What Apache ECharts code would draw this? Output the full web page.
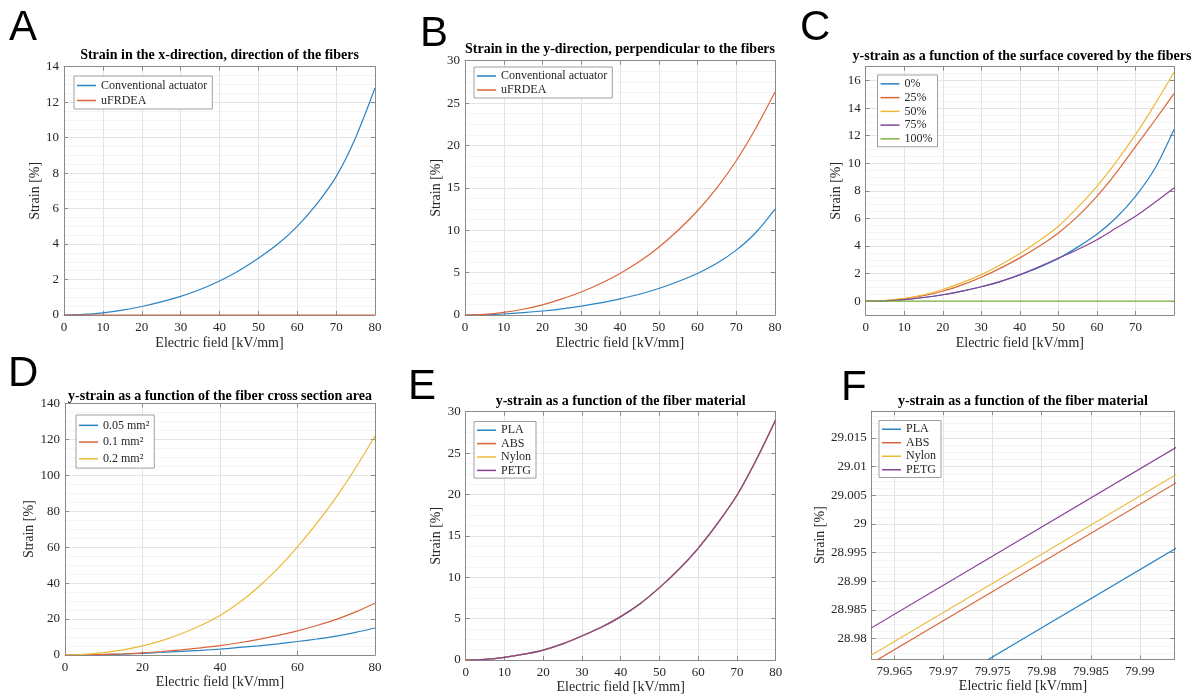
<!DOCTYPE html>
<html>
<head>
<meta charset="utf-8">
<title>Strain vs electric field</title>
<script src="https://cdn.jsdelivr.net/npm/echarts@6/dist/echarts.min.js"></script>
<style>
  html, body { margin: 0; padding: 0; background: #fff; }
  #chart { width: 1201px; height: 697px; }
</style>
</head>
<body>
<div id="chart"></div>
<script>
  // electric field samples [kV/mm], shared by panels A-E
  var field = [0, 5, 10, 15, 20, 25, 30, 35, 40, 45, 50, 55, 60, 65, 70, 75, 80];

  // A: strain in x-direction
  var aConventional = [0, 0.03, 0.12, 0.27, 0.48, 0.74, 1.05, 1.44, 1.92, 2.5, 3.2, 4.0, 5.0, 6.25, 7.8, 10.0, 12.8];
  var aUFRDEA = [0, 0, 0, 0, 0, 0, 0, 0, 0, 0, 0, 0, 0, 0, 0, 0, 0];

  // B: strain in y-direction
  var bConventional = [0, 0.03, 0.12, 0.27, 0.47, 0.73, 1.05, 1.42, 1.9, 2.45, 3.12, 3.95, 4.9, 6.1, 7.65, 9.7, 12.5];
  var bUFRDEA = [0, 0.07, 0.3, 0.68, 1.2, 1.9, 2.72, 3.72, 4.9, 6.3, 8.0, 10.0, 12.3, 15.0, 18.2, 22.0, 26.3];

  // C: surface covered by the fibers
  var cCover0 = [0, 0.03, 0.12, 0.27, 0.47, 0.73, 1.05, 1.42, 1.9, 2.45, 3.1, 3.92, 4.85, 6.05, 7.6, 9.6, 12.45];
  var cCover25 = [0, 0.04, 0.17, 0.4, 0.72, 1.18, 1.74, 2.4, 3.14, 3.98, 4.95, 6.15, 7.6, 9.3, 11.2, 13.1, 15.05];
  var cCover50 = [0, 0.05, 0.2, 0.46, 0.85, 1.35, 1.93, 2.64, 3.45, 4.38, 5.43, 6.8, 8.33, 10.1, 12.07, 14.25, 16.6];
  var cCover75 = [0, 0.03, 0.12, 0.27, 0.47, 0.73, 1.05, 1.44, 1.93, 2.5, 3.12, 3.75, 4.46, 5.3, 6.15, 7.15, 8.2];
  var cCover100 = [0, 0, 0, 0, 0, 0, 0, 0, 0, 0, 0, 0, 0, 0, 0, 0, 0];

  // D: fiber cross section area
  var dArea005 = [0, 0.05, 0.22, 0.5, 0.9, 1.4, 2.0, 2.6, 3.3, 4.2, 5.1, 6.2, 7.5, 8.9, 10.5, 12.6, 15.0];
  var dArea01 = [0, 0.08, 0.32, 0.7, 1.2, 1.95, 2.9, 3.95, 5.2, 6.8, 8.7, 10.9, 13.4, 16.4, 19.8, 24.0, 28.8];
  var dArea02 = [0, 0.3, 1.3, 2.9, 5.1, 8.0, 11.8, 16.4, 22.0, 29.2, 38.0, 48.3, 60.2, 73.3, 87.8, 104.0, 121.8];

  // E: fiber material (curves overlap)
  var ePLA = [0, 0.08, 0.32, 0.7, 1.2, 1.95, 2.9, 3.95, 5.24, 6.8, 8.74, 10.95, 13.5, 16.5, 19.9, 24.2, 29.002];
  var eABS = [0, 0.08, 0.32, 0.7, 1.2, 1.95, 2.9, 3.95, 5.24, 6.8, 8.74, 10.95, 13.5, 16.5, 19.9, 24.2, 29.014];
  var eNylon = [0, 0.08, 0.32, 0.7, 1.2, 1.95, 2.9, 3.95, 5.24, 6.8, 8.74, 10.95, 13.5, 16.5, 19.9, 24.2, 29.015];
  var ePETG = [0, 0.08, 0.32, 0.7, 1.2, 1.95, 2.9, 3.95, 5.24, 6.8, 8.74, 10.95, 13.5, 16.5, 19.9, 24.2, 29.020];

  // F: zoom near 80 kV/mm
  var fField = [79.96, 79.995];
  var fPLA = [28.96159, 28.99711];
  var fABS = [28.97299, 29.00851];
  var fNylon = [28.97442, 29.00995];
  var fPETG = [28.97918, 29.01467];

  var serif = '"Liberation Serif", "Times New Roman", serif';
  var ink = '#262626';
  var boxColor = '#8a8a8a';
  var gridColor = '#e4e4e4';
  var minorColor = '#f5f5f5';
  var colors = ['#2b83c3', '#d9663a', '#ecb938', '#87449a', '#7fb243'];

  var grid = [], xAxis = [], yAxis = [], series = [], legend = [], graphic = [];

  function pairs(xs, ys) {
    return xs.map(function (x, i) { return [x, ys[i]]; });
  }

  function axes(kind, gi, range, hide, name, nameGap) {
    hide = hide || {};
    var main = Object.assign({ type: 'value', gridIndex: gi }, range, {
      position: kind === 'x' ? 'bottom' : 'left',
      name: name,
      nameLocation: 'middle',
      nameGap: nameGap,
      nameTextStyle: { fontFamily: serif, fontSize: 14, color: ink },
      axisLine: { onZero: false, lineStyle: { color: boxColor, width: 1 } },
      axisTick: { inside: true, length: 4, lineStyle: { color: boxColor } },
      axisLabel: {
        fontFamily: serif, fontSize: 13, color: ink,
        margin: kind === 'x' ? 6 : 5,
        showMinLabel: !hide.min, showMaxLabel: !hide.max
      },
      splitLine: { show: true, lineStyle: { color: gridColor, width: 1 } },
      minorTick: { show: false, splitNumber: 4 },
      minorSplitLine: { show: kind === 'y', lineStyle: { color: minorColor, width: 1 } }
    });
    var mirror = Object.assign({ type: 'value', gridIndex: gi }, range, {
      position: kind === 'x' ? 'top' : 'right',
      axisLine: { onZero: false, lineStyle: { color: boxColor, width: 1 } },
      axisTick: { inside: true, length: 4, lineStyle: { color: boxColor } },
      axisLabel: { show: false },
      splitLine: { show: false }
    });
    return [main, mirror];
  }

  function panel(p) {
    var gi = grid.length;
    grid.push({ left: p.box[0], top: p.box[1], width: p.box[2], height: p.box[3], outerBoundsMode: 'none' });
    var xa = axes('x', gi, p.x, p.xHide, 'Electric field [kV/mm]', p.xGap);
    var ya = axes('y', gi, p.y, p.yHide, 'Strain [%]', p.yGap);
    var xi = xAxis.length, yi = yAxis.length;
    xAxis.push(xa[0], xa[1]);
    yAxis.push(ya[0], ya[1]);
    p.lines.forEach(function (l) {
      series.push({
        type: 'line', name: l.name, xAxisIndex: xi, yAxisIndex: yi,
        data: pairs(p.xs, l.data), symbol: 'none', smooth: 0.3,
        clip: true, color: l.color,
        lineStyle: { width: 1.2, color: l.color }
      });
    });
    legend.push({
      orient: 'vertical', left: p.legend[0], top: p.legend[1],
      data: p.lines.map(function (l) { return l.name; }),
      backgroundColor: '#fff', borderColor: '#a0a0a0', borderWidth: 1,
      padding: [2, 5, 1, 3], itemGap: 0, itemWidth: 19, itemHeight: 1.5, icon: 'rect',
      selectedMode: false,
      textStyle: { fontFamily: serif, fontSize: 12, color: ink, lineHeight: p.legend[2] }
    });
    graphic.push({
      type: 'text', x: p.title[1], y: p.title[2], silent: true,
      style: { text: p.title[0], font: 'bold 14px ' + serif, fill: '#000', textAlign: 'center', textVerticalAlign: 'middle' }
    });
    graphic.push({
      type: 'text', x: p.letter[1], y: p.letter[2], silent: true,
      style: { text: p.letter[0], font: '42px "Liberation Sans", Arial, sans-serif', fill: '#000', textAlign: 'left', textVerticalAlign: 'middle' }
    });
  }

  panel({
    box: [64, 66.7, 311, 248.3], xs: field,
    x: { min: 0, max: 80, interval: 10 }, y: { min: 0, max: 14, interval: 2 },
    xGap: 21, yGap: 19,
    lines: [
      { name: 'Conventional actuator', data: aConventional, color: colors[0] },
      { name: 'uFRDEA', data: aUFRDEA, color: colors[1] }
    ],
    legend: [74, 76, 15],
    title: ['Strain in the x-direction, direction of the fibers', 219.5, 55.5],
    letter: ['A', 9, 28]
  });

  panel({
    box: [465, 60.7, 310, 254.3], xs: field,
    x: { min: 0, max: 80, interval: 10 }, y: { min: 0, max: 30, interval: 5 },
    xGap: 21, yGap: 18,
    lines: [
      { name: 'Conventional actuator', data: bConventional, color: colors[0] },
      { name: 'uFRDEA', data: bUFRDEA, color: colors[1] }
    ],
    legend: [474, 67, 14],
    title: ['Strain in the y-direction, perpendicular to the fibers', 620, 49],
    letter: ['B', 420, 34]
  });

  panel({
    box: [865.7, 66.7, 308.3, 248.3], xs: field,
    x: { min: 0, max: 80, interval: 10 }, y: { min: -1, max: 17, minInterval: 2, maxInterval: 2 },
    xHide: { max: true }, yHide: { min: true, max: true },
    xGap: 21, yGap: 18,
    lines: [
      { name: '0%', data: cCover0, color: colors[0] },
      { name: '25%', data: cCover25, color: colors[1] },
      { name: '50%', data: cCover50, color: colors[2] },
      { name: '75%', data: cCover75, color: colors[3] },
      { name: '100%', data: cCover100, color: colors[4] }
    ],
    legend: [877.5, 75, 13.75],
    title: ['y-strain as a function of the surface covered by the fibers', 1022, 56],
    letter: ['C', 800, 28]
  });

  panel({
    box: [65, 403.3, 310, 251.7], xs: field,
    x: { min: 0, max: 80, interval: 20 }, y: { min: 0, max: 140, interval: 20 },
    xGap: 20, yGap: 24,
    lines: [
      { name: '0.05 mm²', data: dArea005, color: colors[0] },
      { name: '0.1 mm²', data: dArea01, color: colors[1] },
      { name: '0.2 mm²', data: dArea02, color: colors[2] }
    ],
    legend: [76, 415, 16.7],
    title: ['y-strain as a function of the fiber cross section area', 220, 396.5],
    letter: ['D', 8, 374]
  });

  panel({
    box: [465.7, 411.7, 310, 248.3], xs: field,
    x: { min: 0, max: 80, interval: 10 }, y: { min: 0, max: 30, interval: 5 },
    xGap: 18, yGap: 17,
    lines: [
      { name: 'PLA', data: ePLA, color: colors[0] },
      { name: 'ABS', data: eABS, color: colors[1] },
      { name: 'Nylon', data: eNylon, color: colors[2] },
      { name: 'PETG', data: ePETG, color: colors[3] }
    ],
    legend: [474, 421.5, 13.4],
    title: ['y-strain as a function of the fiber material', 620.7, 401.5],
    letter: ['E', 408, 387]
  });

  panel({
    box: [871.7, 411, 302.6, 248.3], xs: fField,
    x: { min: 79.9627, max: 79.9935, minInterval: 0.005, maxInterval: 0.005 },
    y: { min: 28.9764, max: 29.0197, minInterval: 0.005, maxInterval: 0.005 },
    xHide: { min: true, max: true }, yHide: { min: true, max: true },
    xGap: 19, yGap: 40,
    lines: [
      { name: 'PLA', data: fPLA, color: colors[0] },
      { name: 'ABS', data: fABS, color: colors[1] },
      { name: 'Nylon', data: fNylon, color: colors[2] },
      { name: 'PETG', data: fPETG, color: colors[3] }
    ],
    legend: [879, 420.5, 13.5],
    title: ['y-strain as a function of the fiber material', 1023, 401.5],
    letter: ['F', 841, 388]
  });

  var chart = echarts.init(document.getElementById('chart'), null, { renderer: 'canvas' });
  chart.setOption({
    backgroundColor: '#fff',
    animation: false,
    grid: grid,
    xAxis: xAxis,
    yAxis: yAxis,
    legend: legend,
    series: series,
    graphic: graphic
  });
</script>
</body>
</html>
